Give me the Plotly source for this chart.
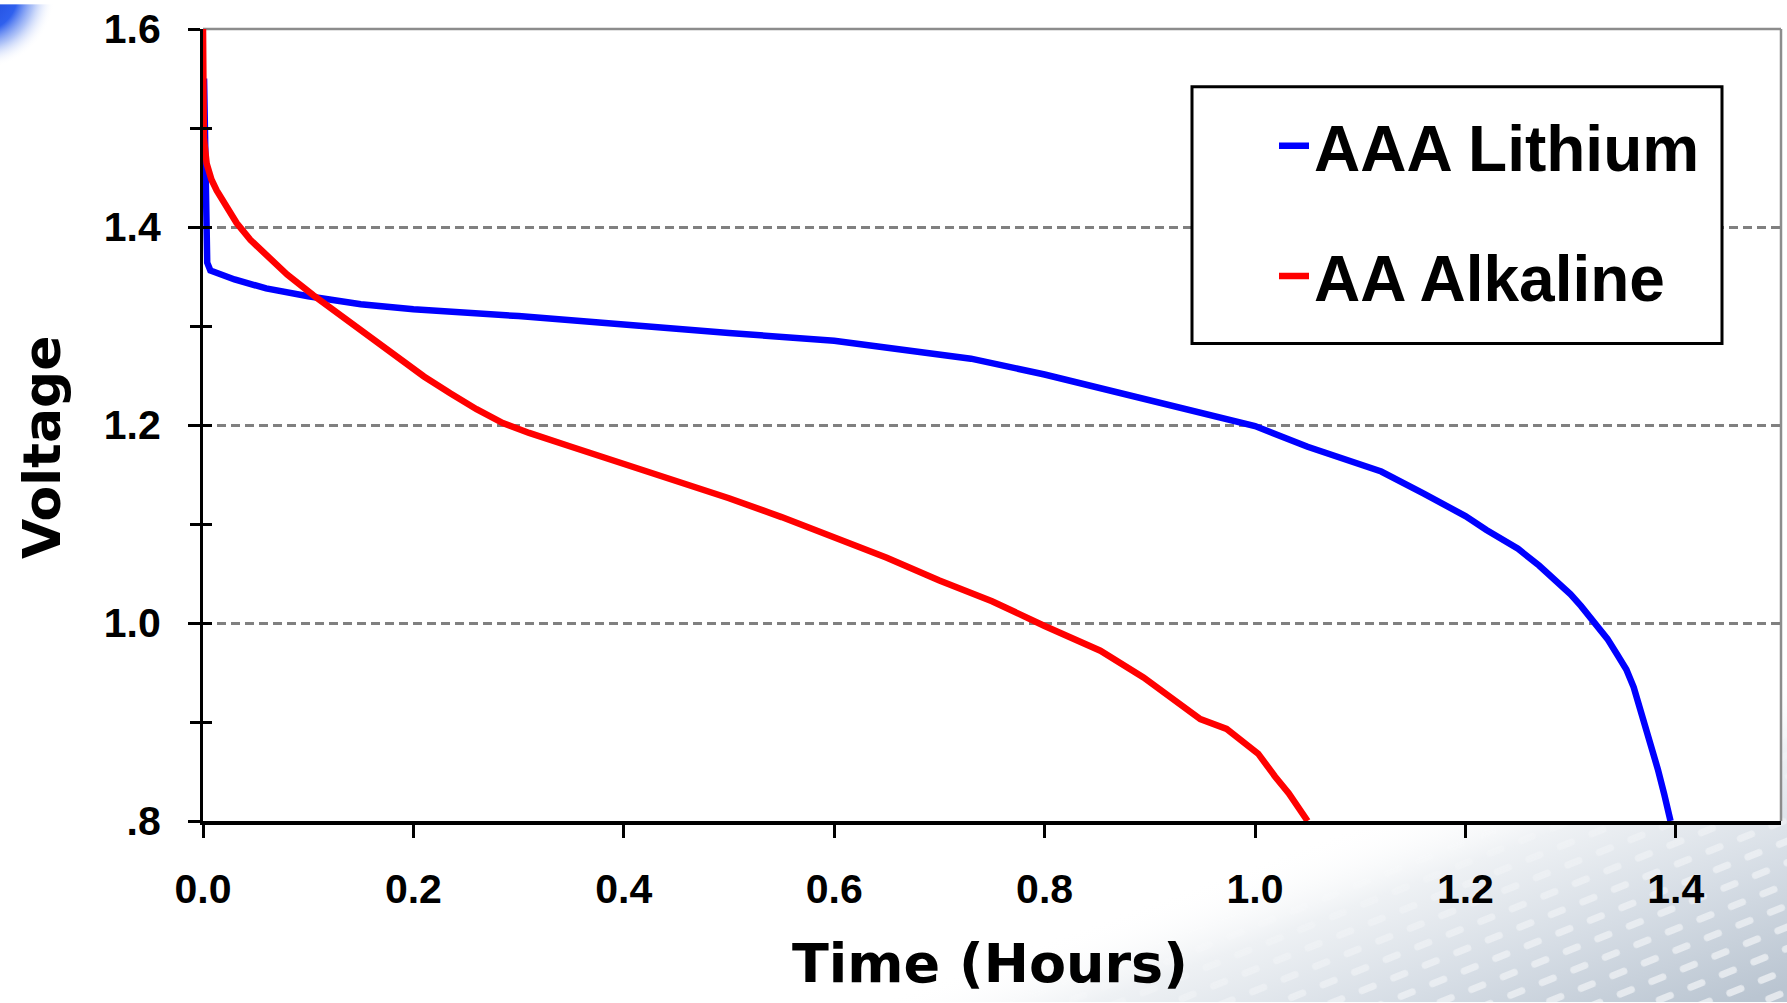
import base64
import plotly.graph_objects as go

# ---------------- data ----------------
time_lithium = [0.001, 0.002, 0.003, 0.004, 0.007, 0.03, 0.06, 0.10, 0.15, 0.20,
                0.30, 0.40, 0.50, 0.60, 0.67, 0.73, 0.80, 0.85, 0.91, 1.00,
                1.05, 1.12, 1.16, 1.20, 1.22, 1.25, 1.27, 1.29, 1.30, 1.31,
                1.323, 1.335, 1.345, 1.353, 1.36, 1.366, 1.373, 1.378, 1.383,
                1.389, 1.395]
volt_lithium = [1.55, 1.48, 1.40, 1.364, 1.356, 1.347, 1.338, 1.330, 1.322, 1.317,
                1.310, 1.301, 1.293, 1.285, 1.276, 1.267, 1.251, 1.238, 1.221, 1.199,
                1.178, 1.153, 1.131, 1.108, 1.094, 1.075, 1.058, 1.039, 1.029, 1.017,
                1.000, 0.984, 0.967, 0.953, 0.935, 0.914, 0.890, 0.871, 0.852,
                0.827, 0.800]

time_alkaline = [0.0, 0.0008, 0.0035, 0.008, 0.013, 0.02, 0.032, 0.045, 0.061, 0.08,
                 0.105, 0.14, 0.187, 0.21, 0.235, 0.26, 0.285, 0.31, 0.35, 0.40,
                 0.45, 0.50, 0.55, 0.60, 0.65, 0.70, 0.75, 0.80, 0.825, 0.853,
                 0.894, 0.936, 0.948, 0.973, 0.986, 1.003, 1.019, 1.032, 1.050]
volt_alkaline = [1.60, 1.49, 1.464, 1.448, 1.437, 1.424, 1.404, 1.387, 1.371, 1.352,
                 1.331, 1.304, 1.267, 1.249, 1.232, 1.216, 1.202, 1.192, 1.178, 1.161,
                 1.144, 1.126, 1.107, 1.087, 1.066, 1.043, 1.022, 0.997, 0.986, 0.972,
                 0.945, 0.913, 0.903, 0.893, 0.883, 0.868, 0.845, 0.828, 0.800]

series_names = ["AAA Lithium", "AA Alkaline"]
series_colors = ["#0000ff", "#ff0000"]

x_tick_vals = [0.0, 0.2, 0.4, 0.6, 0.8, 1.0, 1.2, 1.4]
x_tick_text = ["0.0", "0.2", "0.4", "0.6", "0.8", "1.0", "1.2", "1.4"]
y_tick_vals = [0.8, 1.0, 1.2, 1.4, 1.6]
y_tick_text = [".8", "1.0", "1.2", "1.4", "1.6"]
y_minor_vals = [0.9, 1.1, 1.3, 1.5]
y_all_vals = [0.8, 0.9, 1.0, 1.1, 1.2, 1.3, 1.4, 1.5, 1.6]

x_title = "Time (Hours)"
y_title = "Voltage"

# ---------------- geometry ----------------
W, H = 1787, 1003
L, R, T, B = 203, 6, 25, 182
PW, PH = W - L - R, H - T - B

TICK_FONT = "Liberation Sans, Arial, sans-serif"
TITLE_FONT = "DejaVu Sans, Verdana, sans-serif"

# ---------------- background decoration (svg) ----------------
svg = f'''<svg xmlns="http://www.w3.org/2000/svg" width="{W}" height="{H}" viewBox="0 0 {W} {H}">
<defs>
<linearGradient id="gg" gradientUnits="userSpaceOnUse" x1="1180" y1="890" x2="1285" y2="1173">
 <stop offset="0" stop-color="#ffffff" stop-opacity="0"/>
 <stop offset="0.25" stop-color="#eef1f4" stop-opacity="1"/>
 <stop offset="0.6" stop-color="#d6dde5"/>
 <stop offset="1" stop-color="#bac5d1"/>
</linearGradient>
<linearGradient id="gm" gradientUnits="userSpaceOnUse" x1="1180" y1="890" x2="1285" y2="1173">
 <stop offset="0.1" stop-color="#000000"/>
 <stop offset="0.55" stop-color="#bbbbbb"/>
 <stop offset="1" stop-color="#ffffff"/>
</linearGradient>
<mask id="mk"><rect width="{W}" height="{H}" fill="url(#gm)"/></mask>
<pattern id="pt" width="34" height="20" patternUnits="userSpaceOnUse" patternTransform="rotate(-22)">
 <rect x="4" y="6" width="19" height="7" rx="3.5" fill="#ffffff"/>
</pattern>
<radialGradient id="bl" gradientUnits="userSpaceOnUse" cx="-20" cy="-10" r="75">
 <stop offset="0" stop-color="#1a44d6"/>
 <stop offset="0.5" stop-color="#2f60ee"/>
 <stop offset="0.72" stop-color="#8eaaf4" stop-opacity="0.7"/>
 <stop offset="1" stop-color="#ffffff" stop-opacity="0"/>
</radialGradient>
</defs>
<rect width="{W}" height="{H}" fill="#ffffff"/>
<rect width="{W}" height="{H}" fill="url(#gg)"/>
<rect width="{W}" height="{H}" fill="url(#pt)" mask="url(#mk)" opacity="0.6"/>
<rect width="220" height="160" fill="url(#bl)"/>
<rect x="{L}" y="{T}" width="{PW}" height="{PH}" fill="#ffffff"/>
</svg>'''
bg_src = "data:image/svg+xml;base64," + base64.b64encode(svg.encode()).decode()

# ---------------- figure ----------------
fig = go.Figure()
fig.add_trace(go.Scatter(x=time_lithium, y=volt_lithium, mode="lines", name=series_names[0],
                         legendgroup="g1", line=dict(color=series_colors[0], width=6.5)))
fig.add_trace(go.Scatter(x=time_alkaline, y=volt_alkaline, mode="lines", name=series_names[1],
                         legendgroup="g2", line=dict(color=series_colors[1], width=6.5)))
# helper trace so the overlay axis (inner halves of the crossing y ticks) is drawn
fig.add_trace(go.Scatter(x=[None], y=[None], yaxis="y2", showlegend=False, hoverinfo="skip"))

fig.update_layout(
    width=W, height=H, autosize=False,
    margin=dict(l=L, r=R, t=T, b=B, pad=0),
    paper_bgcolor="#ffffff", plot_bgcolor="#ffffff",
    showlegend=True,
    xaxis=dict(range=[0, 1.5], tickmode="array", tickvals=x_tick_vals, ticktext=x_tick_text,
               ticks="outside", ticklen=13, tickwidth=3, tickcolor="#000000",
               showline=True, linecolor="#000000", linewidth=3.5,
               showgrid=False, zeroline=False, ticklabelstandoff=16,
               tickfont=dict(family=TICK_FONT, size=41, color="#000000", weight="bold")),
    yaxis=dict(range=[0.8, 1.6], tickmode="array", tickvals=y_tick_vals, ticktext=y_tick_text,
               ticks="outside", ticklen=12, tickwidth=3, tickcolor="#000000",
               showline=True, linecolor="#000000", linewidth=3,
               showgrid=True, gridcolor="#808080", gridwidth=2.5, griddash="9px,5px",
               zeroline=False, ticklabelstandoff=19,
               minor=dict(tickmode="array", tickvals=y_minor_vals, ticks="outside",
                          ticklen=10, tickwidth=3, tickcolor="#000000", showgrid=False),
               tickfont=dict(family=TICK_FONT, size=41, color="#000000", weight="bold")),
    yaxis2=dict(overlaying="y", anchor="x", side="left", range=[0.8, 1.6],
                tickmode="array", tickvals=y_all_vals, ticks="inside", ticklen=9,
                tickwidth=3, tickcolor="#000000", showticklabels=False,
                showline=False, showgrid=False, zeroline=False),
    legend=dict(x=(1274 - L) / PW, y=(T + PH - 94) / PH, xanchor="left", yanchor="top",
                bgcolor="rgba(0,0,0,0)", borderwidth=0, tracegroupgap=44,
                font=dict(family=TICK_FONT, size=64, color="#000000", weight="bold")),
    images=[dict(source=bg_src, xref="paper", yref="paper", x=-L / PW, y=1 + T / PH,
                 sizex=W / PW, sizey=H / PH, sizing="stretch", xanchor="left",
                 yanchor="top", layer="below")],
    shapes=[
        dict(type="line", xref="paper", yref="paper", x0=0, x1=1, y0=1, y1=1,
             line=dict(color="#8c8c8c", width=2.5), layer="below"),
        dict(type="line", xref="paper", yref="paper", x0=1, x1=1, y0=0, y1=1,
             line=dict(color="#8c8c8c", width=2.5), layer="below"),
        dict(type="rect", xref="paper", yref="paper",
             x0=(1192 - L) / PW, x1=(1722 - L) / PW,
             y0=(T + PH - 341) / PH, y1=(T + PH - 83) / PH,
             fillcolor="#ffffff", line=dict(color="#000000", width=3), layer="above"),
    ],
    annotations=[
        dict(text=y_title, xref="paper", yref="paper", x=(42 - L) / PW, y=(T + PH - 446) / PH,
             xanchor="center", yanchor="middle", textangle=-90, showarrow=False,
             font=dict(family=TITLE_FONT, size=52, color="#000000", weight="bold")),
        dict(text=x_title, xref="paper", yref="paper", x=(990 - L) / PW, y=(T + PH - 964) / PH,
             xanchor="center", yanchor="middle", showarrow=False,
             font=dict(family=TITLE_FONT, size=54, color="#000000", weight="bold")),
    ],
)

fig.write_html("out.html")
